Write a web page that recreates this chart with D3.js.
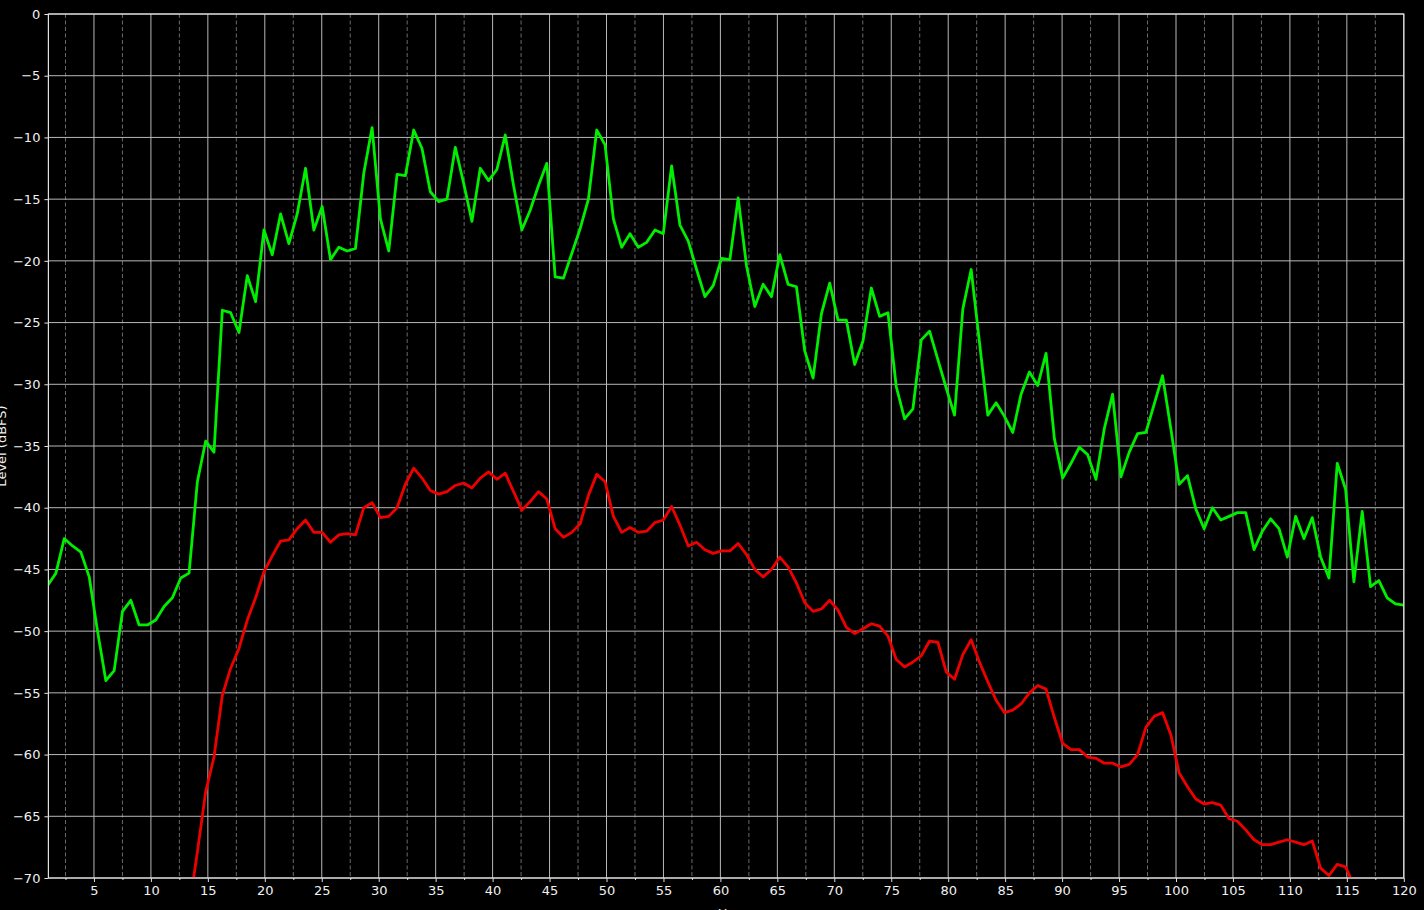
<!DOCTYPE html>
<html>
<head>
<meta charset="utf-8">
<script src="https://cdn.jsdelivr.net/npm/d3@7"></script>
<style>
  body { margin: 0; background: #000; }
  svg { display: block; }
  text { font-family: "DejaVu Sans", sans-serif; }
</style>
</head>
<body>
<svg id="chart" width="1424" height="910"></svg>
<script>
// bins along the x axis (uniform spacing)
const binStart = 0.93;
const binWidth = 0.7305;

const greenLevels = [
  -46.3, -45.3, -42.5, -43.1, -43.6, -45.6, -50.0, -54.0, -53.2, -48.4,
  -47.5, -49.5, -49.5, -49.1, -48.0, -47.3, -45.7, -45.3, -37.9, -34.6,
  -35.5, -24.0, -24.2, -25.8, -21.2, -23.3, -17.5, -19.5, -16.2, -18.6,
  -16.2, -12.5, -17.5, -15.6, -19.9, -18.9, -19.2, -19.0, -12.9, -9.2,
  -16.6, -19.2, -13.0, -13.1, -9.4, -10.9, -14.4, -15.2, -15.0, -10.8,
  -13.7, -16.8, -12.5, -13.5, -12.6, -9.8, -13.9, -17.5, -15.9, -13.9,
  -12.1, -21.3, -21.4, -19.4, -17.4, -15.0, -9.4, -10.6, -16.6, -18.9,
  -17.8, -18.9, -18.5, -17.5, -17.8, -12.3, -17.1, -18.4, -20.7, -22.9,
  -22.0, -19.8, -19.9, -14.9, -20.4, -23.7, -21.9, -22.9, -19.5, -21.9,
  -22.1, -27.3, -29.5, -24.3, -21.8, -24.8, -24.8, -28.4, -26.5, -22.2,
  -24.5, -24.2, -30.2, -32.8, -32.0, -26.4, -25.7, -28.0, -30.3, -32.5,
  -23.9, -20.7, -26.6, -32.5, -31.5, -32.6, -33.9, -30.8, -29.0, -30.1,
  -27.5, -34.4, -37.6, -36.4, -35.1, -35.7, -37.7, -33.6, -30.8, -37.5,
  -35.5, -34.0, -33.9, -31.6, -29.3, -33.6, -38.1, -37.4, -40.1, -41.7,
  -40.0, -41.0, -40.7, -40.4, -40.4, -43.4, -41.9, -40.9, -41.7, -44.0,
  -40.7, -42.5, -40.8, -44.0, -45.7, -36.4, -38.5, -46.0, -40.3, -46.4,
  -45.9, -47.3, -47.8, -47.9
];

// null = below the visible floor
const redLevels = [
  null, null, null, null, null, null, null, null, null, null,
  null, null, null, null, null, null, null, -72.5, -67.9, -63.0,
  -60.2, -55.2, -53.0, -51.4, -49.1, -47.3, -45.2, -43.9, -42.7, -42.6,
  -41.7, -41.0, -42.0, -42.0, -42.8, -42.2, -42.1, -42.2, -40.0, -39.6,
  -40.8, -40.7, -40.0, -38.1, -36.8, -37.6, -38.6, -38.9, -38.7, -38.2,
  -38.0, -38.4, -37.6, -37.1, -37.7, -37.2, -38.7, -40.2, -39.5, -38.7,
  -39.3, -41.7, -42.4, -42.0, -41.3, -39.0, -37.3, -37.9, -40.7, -42.0,
  -41.6, -42.0, -41.9, -41.2, -41.0, -39.9, -41.4, -43.1, -42.8, -43.4,
  -43.7, -43.5, -43.5, -42.9, -43.8, -45.0, -45.6, -45.0, -44.0, -44.8,
  -46.1, -47.7, -48.4, -48.2, -47.5, -48.3, -49.7, -50.2, -49.8, -49.4,
  -49.6, -50.4, -52.3, -52.9, -52.5, -52.0, -50.8, -50.9, -53.3, -53.9,
  -51.9, -50.7, -52.5, -54.1, -55.6, -56.6, -56.4, -55.9, -55.0, -54.4,
  -54.7, -57.0, -59.1, -59.6, -59.6, -60.2, -60.3, -60.7, -60.7, -61.0,
  -60.8, -60.0, -57.8, -56.9, -56.6, -58.4, -61.5, -62.6, -63.6, -64.0,
  -63.9, -64.1, -65.2, -65.4, -66.1, -66.9, -67.3, -67.3, -67.1, -66.9,
  -67.1, -67.3, -67.0, -69.2, -69.8, -68.9, -69.1, -70.6, null, null,
  null, null, null, null
];

const xMajorTicks = [5, 10, 15, 20, 25, 30, 35, 40, 45, 50, 55, 60, 65, 70, 75, 80, 85, 90, 95, 100, 105, 110, 115, 120];
const xMinorTicks = [2.5, 7.5, 12.5, 17.5, 22.5, 27.5, 32.5, 37.5, 42.5, 47.5, 52.5, 57.5, 62.5, 67.5, 72.5, 77.5, 82.5, 87.5, 92.5, 97.5, 102.5, 107.5, 112.5, 117.5];
const yTicks = [0, -5, -10, -15, -20, -25, -30, -35, -40, -45, -50, -55, -60, -65, -70];
const xDomain = [1, 120];
const yDomain = [-70, 0];
const xLabel = "Hz";
const yLabel = "Level (dBFS)";

var margin = {top: 14, right: 20.2, bottom: 32, left: 48.4},
    width = 1424 - margin.left - margin.right,
    height = 910 - margin.top - margin.bottom;

var svg = d3.select("#chart");
svg.append("rect").attr("width", 1424).attr("height", 910).attr("fill", "#000");

var g = svg.append("g")
    .attr("transform", "translate(" + margin.left + "," + margin.top + ")");

var x = d3.scaleLinear().domain(xDomain).range([0, width]);
var y = d3.scaleLinear().domain(yDomain).range([height, 0]);

var fmt = function(d) { return d < 0 ? "\u2212" + Math.abs(d) : String(d); };

// minor dashed grid
g.append("g").selectAll("line")
  .data(xMinorTicks)
  .enter().append("line")
    .attr("x1", function(d) { return x(d); })
    .attr("x2", function(d) { return x(d); })
    .attr("y1", 0).attr("y2", height)
    .attr("stroke", "#6a6a6a").attr("stroke-width", 1)
    .attr("stroke-dasharray", "4,2.5");

// major grid
g.append("g").selectAll("line")
  .data(xMajorTicks)
  .enter().append("line")
    .attr("x1", function(d) { return x(d); })
    .attr("x2", function(d) { return x(d); })
    .attr("y1", 0).attr("y2", height)
    .attr("stroke", "#b8b8b8").attr("stroke-width", 1);

g.append("g").selectAll("line")
  .data(yTicks)
  .enter().append("line")
    .attr("x1", 0).attr("x2", width)
    .attr("y1", function(d) { return y(d); })
    .attr("y2", function(d) { return y(d); })
    .attr("stroke", "#b8b8b8").attr("stroke-width", 1);

// lines
g.append("clipPath").attr("id", "clip")
  .append("rect").attr("width", width).attr("height", height);

var bins = greenLevels.map(function(d, i) { return binStart + i * binWidth; });

var line = d3.line()
    .defined(function(d) { return d[1] !== null; })
    .x(function(d) { return x(d[0]); })
    .y(function(d) { return y(d[1]); });

var plot = g.append("g").attr("clip-path", "url(#clip)");

plot.append("path")
    .datum(bins.map(function(b, i) { return [b, greenLevels[i]]; }))
    .attr("fill", "none")
    .attr("stroke", "#00ee00")
    .attr("stroke-width", 2.8)
    .attr("stroke-linejoin", "round")
    .attr("d", line);

plot.append("path")
    .datum(bins.map(function(b, i) { return [b, redLevels[i]]; }))
    .attr("fill", "none")
    .attr("stroke", "#ee0000")
    .attr("stroke-width", 2.8)
    .attr("stroke-linejoin", "round")
    .attr("d", line);

// spines
g.append("rect")
    .attr("width", width).attr("height", height)
    .attr("fill", "none").attr("stroke", "#e0e0e0").attr("stroke-width", 1.2);

// axes
var xAxis = g.append("g")
    .attr("transform", "translate(0," + height + ")")
    .call(d3.axisBottom(x).tickValues(xMajorTicks).tickFormat(fmt).tickSize(4).tickPadding(4));

var xMinor = g.append("g")
    .attr("transform", "translate(0," + height + ")")
    .call(d3.axisBottom(x).tickValues(xMinorTicks).tickFormat("").tickSize(2));

var yAxis = g.append("g")
    .call(d3.axisLeft(y).tickValues(yTicks).tickFormat(fmt).tickSize(4).tickPadding(4));

[xAxis, xMinor, yAxis].forEach(function(a) {
  a.select(".domain").remove();
  a.selectAll(".tick line").attr("stroke", "#e0e0e0");
  a.selectAll(".tick text")
    .attr("fill", "#f0f0f0")
    .style("font-family", "DejaVu Sans")
    .style("font-size", "13px");
});

// axis labels (partly cut off by the frame edge, as in the source image)
svg.append("text")
    .attr("transform", "translate(6," + (margin.top + height / 2) + ") rotate(-90)")
    .attr("text-anchor", "middle")
    .attr("fill", "#f0f0f0")
    .style("font-size", "13px")
    .text(yLabel);

svg.append("text")
    .attr("x", margin.left + width / 2)
    .attr("y", 918)
    .attr("text-anchor", "middle")
    .attr("fill", "#f0f0f0")
    .style("font-size", "13px")
    .text(xLabel);
</script>
</body>
</html>
